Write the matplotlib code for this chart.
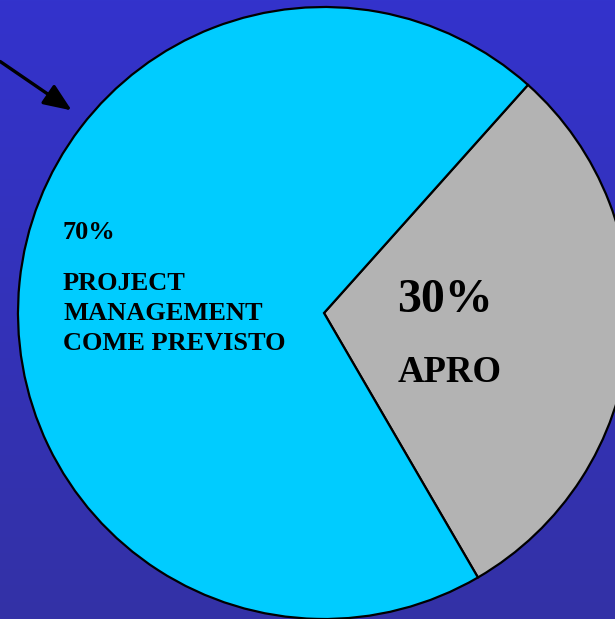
import numpy as np
import matplotlib
matplotlib.use("Agg")
import matplotlib.pyplot as plt
from matplotlib.colors import LinearSegmentedColormap

# data
labels = ["APRO", "PROJECT\nMANAGEMENT\nCOME PREVISTO"]
shares = [30, 70]
colors = ["#b3b3b3", "#00ccff"]

W, H = 615, 619
fig = plt.figure(figsize=(W / 100, H / 100), dpi=100)
ax = fig.add_axes([0, 0, 1, 1])

# background gradient (lighter blue on top, darker at the bottom)
bg = LinearSegmentedColormap.from_list("bg", ["#3431a6", "#3333cc"])
grad = np.linspace(0, 1, 256).reshape(-1, 1)
ax.imshow(grad, cmap=bg, extent=[0, W, 0, H], origin="lower", aspect="auto", zorder=0)

# pie
cx, cy, r = 324, H - 313, 306
ax.pie(shares, colors=colors, startangle=-59.8, counterclock=True,
       center=(cx, cy), radius=r, frame=True,
       wedgeprops=dict(edgecolor="black", linewidth=1.6, zorder=2))
ax.set_xlim(0, W)
ax.set_ylim(0, H)
ax.set_aspect("auto")
ax.axis("off")

font = dict(family="Liberation Serif", fontweight="bold", color="black", zorder=3)

ax.text(63, H - 239, f"{shares[1]}%", fontsize=19, va="baseline", ha="left", **font)
ax.text(63, H - 350, labels[1], fontsize=19, va="baseline", ha="left",
        linespacing=1.4, **font)

ax.text(397, H - 312, f"{shares[0]}%", fontsize=34.5, va="baseline", ha="left", **font)
ax.text(398, H - 382, labels[0], fontsize=26.5, va="baseline", ha="left", **font)

# arrow pointing at the pie
ax.annotate("", xy=(74, H - 112), xytext=(-2, H - 60),
            arrowprops=dict(arrowstyle="-|>,head_length=1.7,head_width=0.7",
                            color="black", lw=2.4), zorder=4)

fig.savefig("out.png", dpi=100)
